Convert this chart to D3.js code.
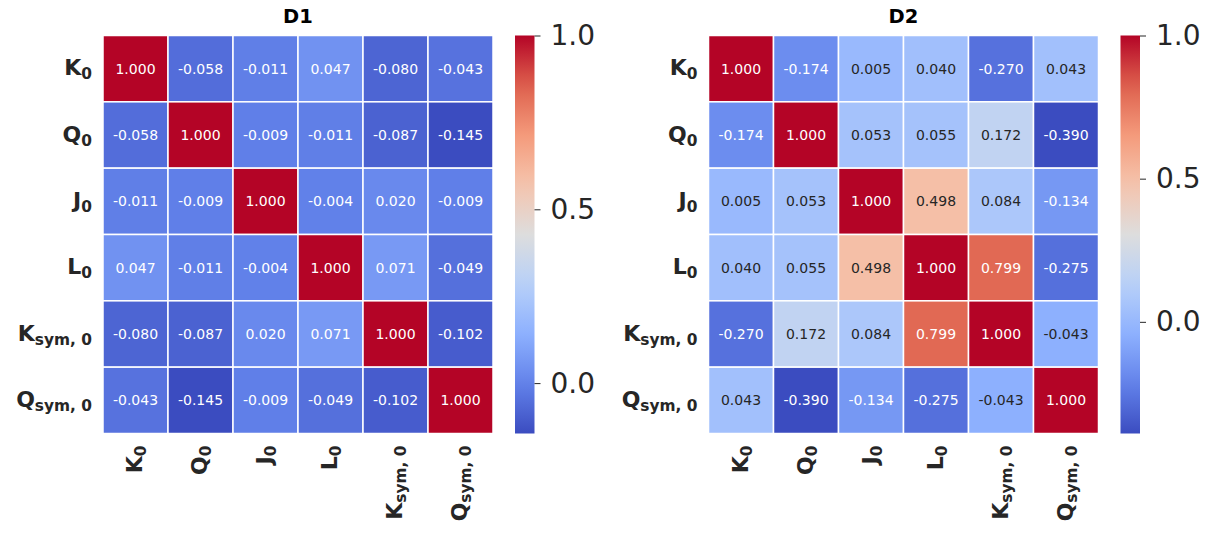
<!DOCTYPE HTML>
<html>
  <head>
    <title>Correlation heatmaps D1 / D2</title>
    <style>
      html, body {
        margin: 0;
        padding: 0;
        background: white;
      }

      text {
        font-family: "DejaVu Sans", sans-serif;
        fill: #262626;
      }

      .title {
        font-weight: bold;
        font-size: 19.5px;
        fill: black;
      }

      .tickLabel {
        font-weight: bold;
        font-size: 22px;
      }

      .cellText {
        font-size: 14px;
      }

      .cbar .tick text {
        font-size: 28px;
        fill: #262626;
      }

      .cbar .tick line {
        stroke: #262626;
      }
    </style>
  </head>
  <body>
    <svg width="1215" height="534"></svg>
    <script src="https://d3js.org/d3.v7.min.js"></script>
    <script>
      // axis labels: main letter + subscript
      var labelMain = [ 'K', 'Q', 'J', 'L', 'K', 'Q' ];
      var labelSub = [ '0', '0', '0', '0', 'sym, 0', 'sym, 0' ];

      var d1Values = [
        [ 1.000, -0.058, -0.011,  0.047, -0.080, -0.043 ],
        [ -0.058, 1.000, -0.009, -0.011, -0.087, -0.145 ],
        [ -0.011, -0.009, 1.000, -0.004,  0.020, -0.009 ],
        [ 0.047, -0.011, -0.004,  1.000,  0.071, -0.049 ],
        [ -0.080, -0.087, 0.020,  0.071,  1.000, -0.102 ],
        [ -0.043, -0.145, -0.009, -0.049, -0.102, 1.000 ]
      ];

      var d2Values = [
        [ 1.000, -0.174, 0.005,  0.040, -0.270,  0.043 ],
        [ -0.174, 1.000, 0.053,  0.055,  0.172, -0.390 ],
        [ 0.005,  0.053, 1.000,  0.498,  0.084, -0.134 ],
        [ 0.040,  0.055, 0.498,  1.000,  0.799, -0.275 ],
        [ -0.270, 0.172, 0.084,  0.799,  1.000, -0.043 ],
        [ 0.043, -0.390, -0.134, -0.275, -0.043, 1.000 ]
      ];

      var cbarTicks = [ 0.0, 0.5, 1.0 ];

      // matplotlib "coolwarm" sampled at 9 points
      var coolwarmStops = [ 0, 0.125, 0.25, 0.375, 0.5, 0.625, 0.75, 0.875, 1 ];
      var coolwarmColors = [ '#3b4cc0', '#6282ea', '#8db0fe', '#b8d0f9', '#dddddd',
                             '#f5c4ad', '#f49a7b', '#de604d', '#b40426' ];
      var coolwarm = d3.scaleLinear()
        .domain( coolwarmStops )
        .range( coolwarmColors )
        .interpolate( d3.interpolateRgb );

      var svg = d3.select( 'svg' );

      function luminance( c ) {
        var rgb = d3.rgb( c );
        function lin( v ) {
          v = v / 255;
          return v <= 0.03928 ? v / 12.92 : Math.pow( ( v + 0.055 ) / 1.055, 2.4 );
        }
        return 0.2126 * lin( rgb.r ) + 0.7152 * lin( rgb.g ) + 0.0722 * lin( rgb.b );
      }

      function addLabel( sel, i ) {
        sel.append( 'tspan' ).text( labelMain[i] );
        sel.append( 'tspan' )
          .attr( 'font-size', '0.7em' )
          .attr( 'dy', '0.27em' )
          .text( labelSub[i] );
      }

      function drawPanel( id, values, title, left ) {
        var top = 35.5, w = 390, h = 398;
        var idx = d3.range( values.length );
        var vmin = d3.min( values, function( r ) { return d3.min( r ); } );
        var vmax = d3.max( values, function( r ) { return d3.max( r ); } );

        var xScale = d3.scaleBand().domain( idx ).range( [ left, left + w ] );
        var yScale = d3.scaleBand().domain( idx ).range( [ top, top + h ] );
        var norm = d3.scaleLinear().domain( [ vmin, vmax ] ).range( [ 0, 1 ] );
        var color = function( v ) { return coolwarm( norm( v ) ); };

        var g = svg.append( 'g' ).attr( 'class', 'panel ' + id );

        var cells = [];
        values.forEach( function( row, r ) {
          row.forEach( function( v, c ) {
            cells.push( { r: r, c: c, v: v } );
          } );
        } );

        g.selectAll( 'rect.cell' )
          .data( cells )
          .enter()
          .append( 'rect' )
            .attr( 'class', 'cell' )
            .attr( 'x', function( d ) { return xScale( d.c ); } )
            .attr( 'y', function( d ) { return yScale( d.r ); } )
            .attr( 'width', xScale.bandwidth() )
            .attr( 'height', yScale.bandwidth() )
            .attr( 'fill', function( d ) { return color( d.v ); } )
            .attr( 'stroke', 'white' )
            .attr( 'stroke-width', 1.5 );

        g.selectAll( 'text.cellText' )
          .data( cells )
          .enter()
          .append( 'text' )
            .attr( 'class', 'cellText' )
            .attr( 'x', function( d ) { return xScale( d.c ) + xScale.bandwidth() / 2; } )
            .attr( 'y', function( d ) { return yScale( d.r ) + yScale.bandwidth() / 2; } )
            .attr( 'text-anchor', 'middle' )
            .attr( 'dy', '0.36em' )
            .style( 'fill', function( d ) { return luminance( color( d.v ) ) > 0.408 ? '#262626' : 'white'; } )
            .text( function( d ) { return d.v.toFixed( 3 ); } );

        // title
        g.append( 'text' )
          .attr( 'class', 'title' )
          .attr( 'x', left + w / 2 )
          .attr( 'y', 23 )
          .attr( 'text-anchor', 'middle' )
          .text( title );

        // y tick labels
        idx.forEach( function( i ) {
          var t = g.append( 'text' )
            .attr( 'class', 'tickLabel' )
            .attr( 'x', left - 11 )
            .attr( 'y', yScale( i ) + yScale.bandwidth() / 2 )
            .attr( 'dy', '0.3em' )
            .attr( 'text-anchor', 'end' );
          addLabel( t, i );
        } );

        // x tick labels (rotated)
        idx.forEach( function( i ) {
          var t = g.append( 'text' )
            .attr( 'class', 'tickLabel' )
            .attr( 'transform', 'translate( ' + ( xScale( i ) + xScale.bandwidth() / 2 ) + ', ' + ( top + h + 12 ) + ' ) rotate( -90 )' )
            .attr( 'dy', '0.3em' )
            .attr( 'text-anchor', 'end' );
          addLabel( t, i );
        } );

        // colorbar
        var cbX = left + w + 22, cbW = 19.5;
        var cbScale = d3.scaleLinear().domain( [ vmin, vmax ] ).range( [ top + h, top ] );
        var grad = svg.append( 'defs' )
          .append( 'linearGradient' )
            .attr( 'id', 'grad-' + id )
            .attr( 'x1', 0 ).attr( 'y1', 1 )
            .attr( 'x2', 0 ).attr( 'y2', 0 );
        d3.range( 0, 1.0001, 0.05 ).forEach( function( t ) {
          grad.append( 'stop' )
            .attr( 'offset', t )
            .attr( 'stop-color', coolwarm( t ) );
        } );
        g.append( 'rect' )
          .attr( 'x', cbX )
          .attr( 'y', top )
          .attr( 'width', cbW )
          .attr( 'height', h )
          .attr( 'fill', 'url(#grad-' + id + ')' );

        var cbAxis = d3.axisRight( cbScale )
          .tickValues( cbarTicks )
          .tickFormat( d3.format( '.1f' ) )
          .tickSize( 6 )
          .tickPadding( 10 );
        var ax = g.append( 'g' )
          .attr( 'class', 'cbar' )
          .attr( 'transform', 'translate( ' + ( cbX + cbW ) + ', 0 )' )
          .call( cbAxis );
        ax.select( '.domain' ).remove();
        ax.selectAll( '.tick text' ).attr( 'font-family', null );
      }

      drawPanel( 'd1', d1Values, 'D1', 103 );
      drawPanel( 'd2', d2Values, 'D2', 708.5 );
    </script>
  </body>
</html>
